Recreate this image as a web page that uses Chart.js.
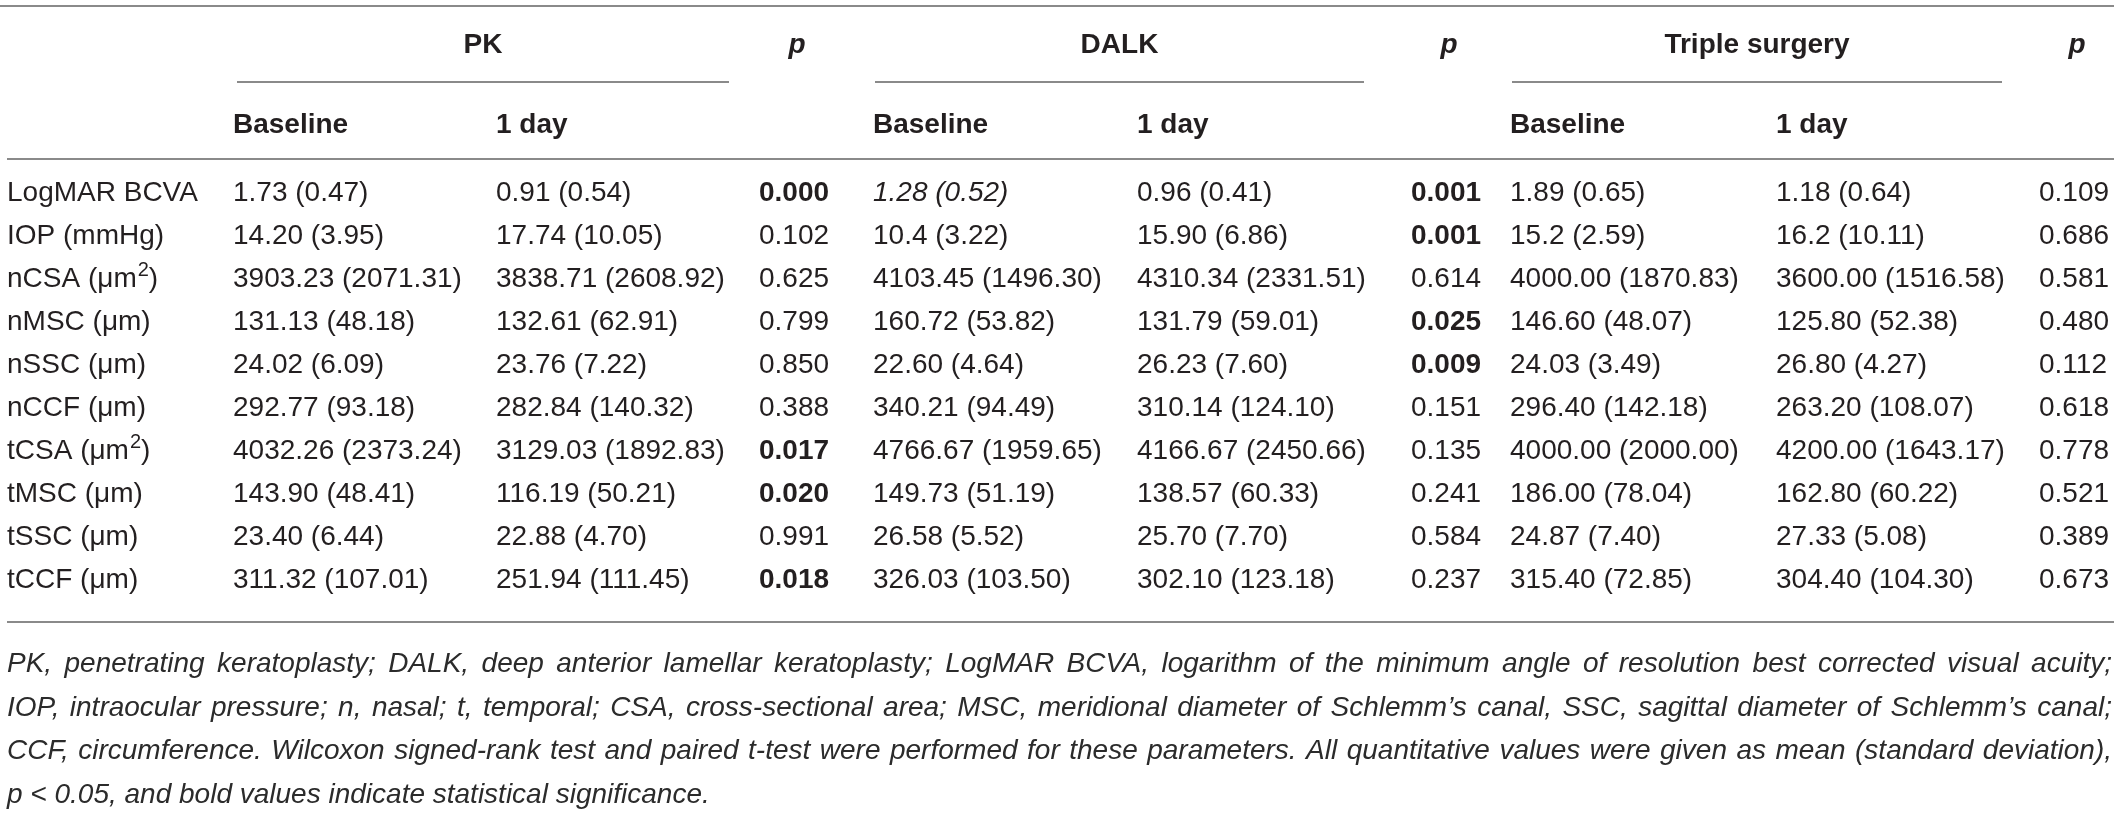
<!DOCTYPE html>
<html>
<head>
<meta charset="utf-8">
<script src="https://cdn.jsdelivr.net/npm/chart.js@4.4.1/dist/chart.umd.min.js"></script>
<style>
  html, body { margin: 0; padding: 0; background: #fff; }
  canvas { display: block; }
</style>
</head>
<body>
<canvas id="table" width="2119" height="816"></canvas>
<script>
// Table values
const groups = ['PK', 'DALK', 'Triple surgery'];
const subHeaders = ['Baseline', '1 day'];
const pHeader = 'p';

const rowLabels = ['LogMAR BCVA', 'IOP (mmHg)', 'nCSA (μm^2)', 'nMSC (μm)', 'nSSC (μm)',
  'nCCF (μm)', 'tCSA (μm^2)', 'tMSC (μm)', 'tSSC (μm)', 'tCCF (μm)'];

const pkBaseline = ['1.73 (0.47)', '14.20 (3.95)', '3903.23 (2071.31)', '131.13 (48.18)', '24.02 (6.09)',
  '292.77 (93.18)', '4032.26 (2373.24)', '143.90 (48.41)', '23.40 (6.44)', '311.32 (107.01)'];
const pk1day = ['0.91 (0.54)', '17.74 (10.05)', '3838.71 (2608.92)', '132.61 (62.91)', '23.76 (7.22)',
  '282.84 (140.32)', '3129.03 (1892.83)', '116.19 (50.21)', '22.88 (4.70)', '251.94 (111.45)'];
const pkP = ['0.000', '0.102', '0.625', '0.799', '0.850', '0.388', '0.017', '0.020', '0.991', '0.018'];

const dalkBaseline = ['1.28 (0.52)', '10.4 (3.22)', '4103.45 (1496.30)', '160.72 (53.82)', '22.60 (4.64)',
  '340.21 (94.49)', '4766.67 (1959.65)', '149.73 (51.19)', '26.58 (5.52)', '326.03 (103.50)'];
const dalk1day = ['0.96 (0.41)', '15.90 (6.86)', '4310.34 (2331.51)', '131.79 (59.01)', '26.23 (7.60)',
  '310.14 (124.10)', '4166.67 (2450.66)', '138.57 (60.33)', '25.70 (7.70)', '302.10 (123.18)'];
const dalkP = ['0.001', '0.001', '0.614', '0.025', '0.009', '0.151', '0.135', '0.241', '0.584', '0.237'];

const tripleBaseline = ['1.89 (0.65)', '15.2 (2.59)', '4000.00 (1870.83)', '146.60 (48.07)', '24.03 (3.49)',
  '296.40 (142.18)', '4000.00 (2000.00)', '186.00 (78.04)', '24.87 (7.40)', '315.40 (72.85)'];
const triple1day = ['1.18 (0.64)', '16.2 (10.11)', '3600.00 (1516.58)', '125.80 (52.38)', '26.80 (4.27)',
  '263.20 (108.07)', '4200.00 (1643.17)', '162.80 (60.22)', '27.33 (5.08)', '304.40 (104.30)'];
const tripleP = ['0.109', '0.686', '0.581', '0.480', '0.112', '0.618', '0.778', '0.521', '0.389', '0.673'];

// cells printed in italics in the original (column key, row index)
const italicCells = [['dalkBaseline', 0]];

const footnoteLines = [
  'PK, penetrating keratoplasty; DALK, deep anterior lamellar keratoplasty; LogMAR BCVA, logarithm of the minimum angle of resolution best corrected visual acuity;',
  'IOP, intraocular pressure; n, nasal; t, temporal; CSA, cross-sectional area; MSC, meridional diameter of Schlemm’s canal, SSC, sagittal diameter of Schlemm’s canal;',
  'CCF, circumference. Wilcoxon signed-rank test and paired t-test were performed for these parameters. All quantitative values were given as mean (standard deviation),',
  'p < 0.05, and bold values indicate statistical significance.'
];

// Columns of the body
const columns = [
  { key: 'label', values: rowLabels },
  { key: 'pkBaseline', values: pkBaseline },
  { key: 'pk1day', values: pk1day },
  { key: 'pkP', values: pkP, isP: true },
  { key: 'dalkBaseline', values: dalkBaseline },
  { key: 'dalk1day', values: dalk1day },
  { key: 'dalkP', values: dalkP, isP: true },
  { key: 'tripleBaseline', values: tripleBaseline },
  { key: 'triple1day', values: triple1day },
  { key: 'tripleP', values: tripleP, isP: true }
];

// Layout (pixels)
const colX = [7, 233, 496, 759, 873, 1137, 1411, 1510, 1776, 2039];
const groupSpans = [[237, 729], [875, 1364], [1512, 2002]];
const tableLeft = 7, tableRight = 2112;
const FONT = "'Liberation Sans', Arial, Helvetica, sans-serif";
const FS = 28;
const TEXT_COLOR = '#231f20';
const RULE_COLOR = '#8a8a8a';

function font(style, size) {
  return style + ' ' + size + 'px ' + FONT;
}

// draws text with '^x' meaning superscript x, returns width
function drawRich(ctx, text, x, y, style) {
  const parts = text.split(/\^(.)/);
  let cx = x;
  parts.forEach((part, i) => {
    if (!part) return;
    if (i % 2 === 1) {
      ctx.font = font(style, 20);
      ctx.fillText(part, cx + 1, y - 11);
      cx += ctx.measureText(part).width + 1;
    } else {
      ctx.font = font(style, FS);
      ctx.fillText(part, cx, y);
      cx += ctx.measureText(part).width;
    }
  });
  return cx - x;
}

function hLine(ctx, x1, x2, y) {
  ctx.beginPath();
  ctx.moveTo(x1, y);
  ctx.lineTo(x2, y);
  ctx.stroke();
}

function drawJustified(ctx, text, x1, x2, y, justify) {
  const words = text.split(' ');
  if (!justify || words.length < 2) {
    ctx.fillText(text, x1, y);
    return;
  }
  const total = words.reduce((s, w) => s + ctx.measureText(w).width, 0);
  const gap = (x2 - x1 - total) / (words.length - 1);
  let cx = x1;
  words.forEach(w => {
    ctx.fillText(w, cx, y);
    cx += ctx.measureText(w).width + gap;
  });
}

const tablePlugin = {
  id: 'tableText',
  afterDatasetsDraw(chart) {
    const ctx = chart.ctx;
    const area = chart.chartArea;
    const yScale = chart.scales.y;
    const capShift = 10; // baseline offset from the text's visual middle

    ctx.save();
    ctx.textBaseline = 'alphabetic';
    ctx.fillStyle = TEXT_COLOR;
    ctx.strokeStyle = RULE_COLOR;
    ctx.lineWidth = 2;

    // rules
    hLine(ctx, 0, tableRight + 2, 6);
    groupSpans.forEach(s => hLine(ctx, s[0], s[1], 82));
    hLine(ctx, tableLeft, tableRight + 2, area.top - 10);
    hLine(ctx, tableLeft, tableRight + 2, area.bottom + 22);

    // group headers
    ctx.font = font('bold', FS);
    ctx.textAlign = 'center';
    groups.forEach((g, i) => {
      const s = groupSpans[i];
      ctx.fillText(g, (s[0] + s[1]) / 2, 43 + capShift);
    });
    ctx.font = font('italic bold', FS);
    columns.forEach((c, i) => {
      if (c.isP) ctx.fillText(pHeader, colX[i] + 38, 43 + capShift);
    });

    // sub headers
    ctx.textAlign = 'left';
    ctx.font = font('bold', FS);
    for (let g = 0; g < groups.length; g++) {
      subHeaders.forEach((h, j) => {
        ctx.fillText(h, colX[1 + g * 3 + j], 123 + capShift);
      });
    }

    // body cells, rows placed by the category scale
    columns.forEach((c, ci) => {
      c.values.forEach((v, ri) => {
        const yc = yScale.getPixelForValue(ri) + capShift;
        let style = 'normal';
        if (c.isP && parseFloat(v) < 0.05) style = 'bold';
        if (italicCells.some(ic => ic[0] === c.key && ic[1] === ri)) style = 'italic';
        drawRich(ctx, v, colX[ci], yc, style);
      });
    });

    // footnote
    ctx.font = font('italic', FS);
    ctx.fillStyle = '#2b2b2b';
    const fnTop = area.bottom + 62;
    footnoteLines.forEach((line, i) => {
      drawJustified(ctx, line, tableLeft, tableRight, fnTop + i * 43.5 + capShift, i < footnoteLines.length - 1);
    });

    ctx.restore();
  }
};

new Chart(document.getElementById('table'), {
  type: 'scatter',
  data: {
    datasets: [{
      data: rowLabels.map((r, i) => ({ x: 0, y: r })),
      pointRadius: 0
    }]
  },
  options: {
    responsive: false,
    devicePixelRatio: 1,
    animation: false,
    events: [],
    layout: { padding: { top: 169, bottom: 216, left: 0, right: 0 } },
    plugins: { legend: { display: false }, tooltip: { enabled: false } },
    scales: {
      x: { type: 'linear', min: 0, max: 1, display: false },
      y: { type: 'category', labels: rowLabels, offset: true, display: false }
    }
  },
  plugins: [tablePlugin]
});
</script>
</body>
</html>
